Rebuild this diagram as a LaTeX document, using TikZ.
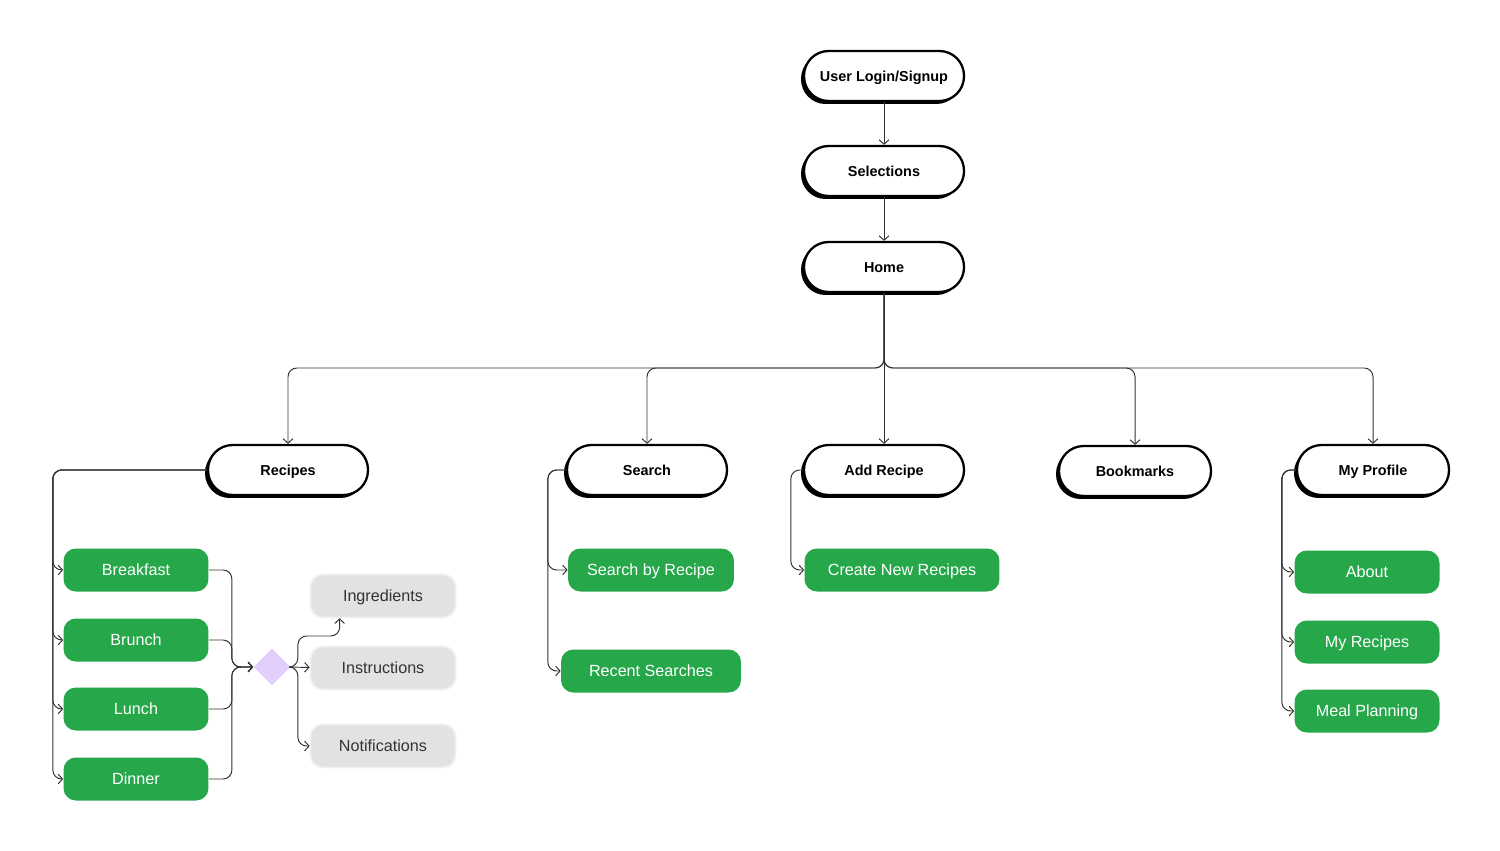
\documentclass[tikz,border=0pt]{standalone}
\usepackage{fontspec}
\setmainfont{Liberation Sans}
\usetikzlibrary{arrows.meta,shapes.geometric,shadows}
\definecolor{leafgreen}{HTML}{26A84A}
\definecolor{optgrey}{HTML}{E2E2E2}
\definecolor{choicepurple}{HTML}{E2CFFC}
\definecolor{wire}{HTML}{333333}
\begin{document}
\begin{tikzpicture}[x=0.02cm, y=-0.02cm, >={Straight Barb[length=2.5pt,width=5.5pt]},
    page/.style = {draw, line width=1.3pt, fill=white, rounded corners=14pt, minimum width=3.2cm, minimum height=1cm,
        font=\fontsize{8.2}{10}\selectfont\bfseries, text height=1.6ex, text depth=0.4ex,
        drop shadow={shadow xshift=-0.06cm, shadow yshift=-0.06cm, fill=black, opacity=1}},
    leaf/.style = {fill=leafgreen, text=white, rounded corners=7pt, minimum width=2.9cm, minimum height=0.86cm,
        font=\fontsize{9.2}{11}\selectfont, text height=1.6ex, text depth=0.4ex},
    extra/.style = {fill=optgrey, draw=black!6, line width=1pt, text=black!80, rounded corners=7pt,
        minimum width=2.9cm, minimum height=0.86cm, font=\fontsize{9.2}{11}\selectfont, text height=1.6ex, text depth=0.4ex},
    link/.style = {->, wire, line width=0.55pt, rounded corners=5pt}]
    \useasboundingbox (0,0) rectangle (1500,851);

    % main pages
    \node[page] (login) at (884,76) {User Login/Signup};
    \node[page] (select) at (884,171) {Selections};
    \node[page] (home) at (884,267) {Home};
    \coordinate (hub) at (884,368);

    \node[page] (recipes) at (288,470) {Recipes};
    \node[page] (search) at (647,470) {Search};
    \node[page] (addrec) at (884,470) {Add Recipe};
    \node[page, minimum width=3.04cm] (bookm) at (1135,471) {Bookmarks};
    \node[page, minimum width=3.04cm] (profile) at (1373,470) {My Profile};

    % sub pages
    \node[leaf] (breakfast) at (136,570) {Breakfast};
    \node[leaf] (brunch) at (136,640) {Brunch};
    \node[leaf] (lunch) at (136,709) {Lunch};
    \node[leaf] (dinner) at (136,779) {Dinner};

    \node[diamond, fill=choicepurple, minimum size=0.74cm, inner sep=0pt] (choice) at (272,667) {};

    \node[extra] (ingred) at (383,596) {Ingredients};
    \node[extra] (instr) at (383,668) {Instructions};
    \node[extra] (notif) at (383,746) {Notifications};

    \node[leaf, minimum width=3.32cm] (sbr) at (651,570) {Search by Recipe};
    \node[leaf, minimum width=3.6cm] (recent) at (651,671) {Recent Searches};
    \node[leaf, minimum width=3.9cm] (create) at (902,570) {Create New Recipes};

    \node[leaf] (about) at (1367,572) {About};
    \node[leaf] (myrec) at (1367,642) {My Recipes};
    \node[leaf] (meal) at (1367,711) {Meal Planning};

    % links
    \draw[link] (login) -- (select);
    \draw[link] (select) -- (home);
    \draw[link] (home) -- (addrec);
    \foreach \n in {recipes,search,bookm,profile}
        \draw[link] (home.south) -- (hub) -| (\n.north);

    \foreach \n in {breakfast,brunch,lunch,dinner}
        \draw[link] (recipes.west) -- ++(-154,0) |- (\n);
    \foreach \n in {breakfast,brunch,lunch,dinner}
        \draw[link] (\n.east) -- ++(23,0) |- (choice);

    \draw[link] (choice.east) -- ++(7,0) -- ++(0,-31) -| ([xshift=0.6cm]ingred.south west);
    \draw[link] (choice) -- (instr);
    \draw[link] (choice.east) -- ++(7,0) |- (notif);

    \foreach \n in {sbr,recent}
        \draw[link] (search.west) -- ++(-18,0) |- (\n);
    \draw[link] (addrec.west) -- ++(-12,0) |- (create);
    \foreach \n in {about,myrec,meal}
        \draw[link] (profile.west) -- ++(-14,0) |- (\n);

\end{tikzpicture}
\end{document}
